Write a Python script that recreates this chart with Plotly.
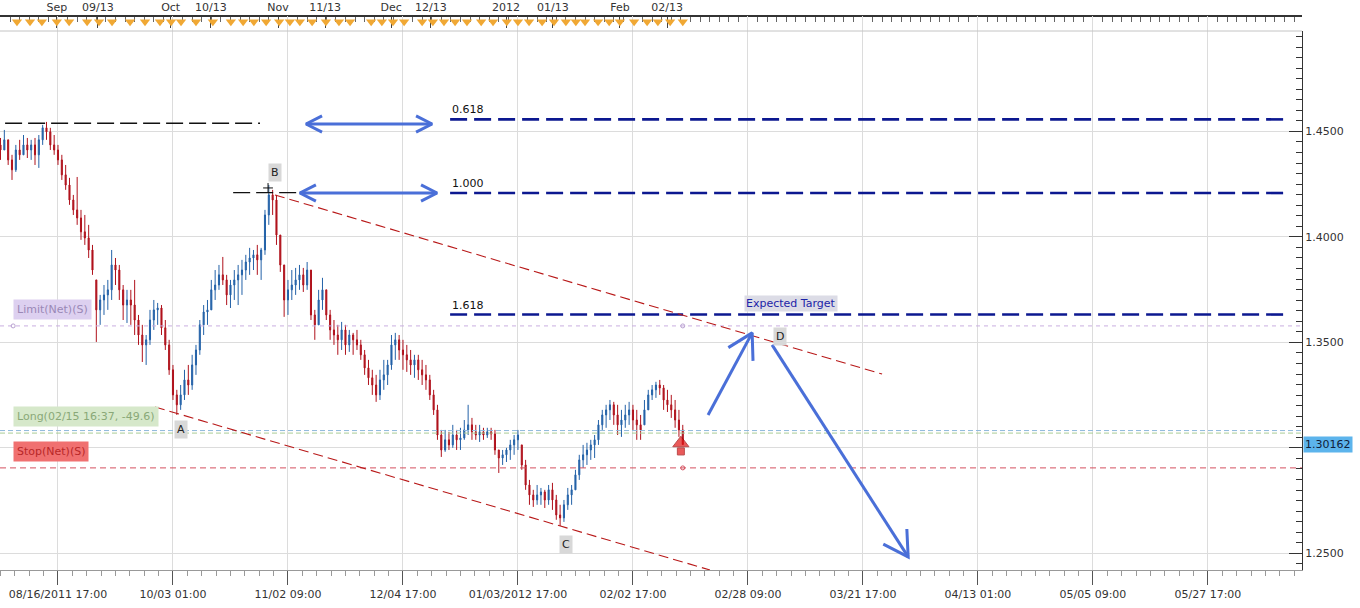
import math
import plotly.graph_objects as go

# ---------------- data ----------------
bar_index = list(range(179))
high = [1.4469, 1.4507, 1.4460, 1.4389, 1.4436, 1.4460, 1.4483, 1.4469, 1.4460, 1.4469,
        1.4483, 1.4531, 1.4545, 1.4517, 1.4483, 1.4436, 1.4389, 1.4341, 1.4280, 1.4199,
        1.4284, 1.4128, 1.4104, 1.4057, 1.3962, 1.3796, 1.3725, 1.3772, 1.3796, 1.3938,
        1.3900, 1.3867, 1.3772, 1.3749, 1.3749, 1.3796, 1.3630, 1.3583, 1.3535, 1.3654,
        1.3701, 1.3687, 1.3677, 1.3606, 1.3512, 1.3393, 1.3275, 1.3298, 1.3370, 1.3393,
        1.3441, 1.3488, 1.3606, 1.3677, 1.3701, 1.3796, 1.3843, 1.3867, 1.3905, 1.3820,
        1.3796, 1.3843, 1.3867, 1.3891, 1.3915, 1.3948, 1.3938, 1.3962, 1.3948, 1.4128,
        1.4246, 1.4223, 1.4199, 1.4009, 1.3867, 1.3796, 1.3843, 1.3853, 1.3867, 1.3853,
        1.3881, 1.3843, 1.3654, 1.3749, 1.3806, 1.3749, 1.3654, 1.3606, 1.3583, 1.3597,
        1.3583, 1.3559, 1.3545, 1.3559, 1.3512, 1.3464, 1.3417, 1.3370, 1.3346, 1.3370,
        1.3417, 1.3417, 1.3535, 1.3545, 1.3535, 1.3512, 1.3488, 1.3464, 1.3441, 1.3441,
        1.3417, 1.3393, 1.3346, 1.3275, 1.3204, 1.3085, 1.3085, 1.3076, 1.3109, 1.3085,
        1.3095, 1.3132, 1.3204, 1.3142, 1.3109, 1.3109, 1.3095, 1.3095, 1.3095, 1.3085,
        1.2990, 1.2990, 1.3000, 1.3038, 1.3061, 1.3085, 1.3014, 1.2943, 1.2848, 1.2801,
        1.2824, 1.2810, 1.2801, 1.2824, 1.2834, 1.2777, 1.2730, 1.2753, 1.2810, 1.2824,
        1.2896, 1.2967, 1.3014, 1.3024, 1.3038, 1.3061, 1.3132, 1.3180, 1.3204, 1.3227,
        1.3218, 1.3204, 1.3180, 1.3204, 1.3218, 1.3204, 1.3180, 1.3156, 1.3227, 1.3275,
        1.3298, 1.3313, 1.3322, 1.3298, 1.3275, 1.3251, 1.3227, 1.3180, 1.3109]
low = [1.4365, 1.4412, 1.4341, 1.4270, 1.4308, 1.4365, 1.4389, 1.4374, 1.4365, 1.4341,
       1.4327, 1.4436, 1.4460, 1.4412, 1.4389, 1.4341, 1.4270, 1.4223, 1.4152, 1.4104,
       1.4057, 1.3986, 1.3962, 1.3900, 1.3820, 1.3502, 1.3583, 1.3630, 1.3654, 1.3701,
       1.3772, 1.3701, 1.3606, 1.3592, 1.3583, 1.3535, 1.3488, 1.3407, 1.3393, 1.3488,
       1.3559, 1.3583, 1.3535, 1.3464, 1.3346, 1.3227, 1.3156, 1.3180, 1.3227, 1.3251,
       1.3275, 1.3346, 1.3441, 1.3535, 1.3583, 1.3654, 1.3701, 1.3749, 1.3772, 1.3677,
       1.3663, 1.3701, 1.3677, 1.3725, 1.3796, 1.3820, 1.3843, 1.3820, 1.3796, 1.3915,
       1.4057, 1.4104, 1.3962, 1.3834, 1.3621, 1.3630, 1.3701, 1.3725, 1.3749, 1.3739,
       1.3749, 1.3606, 1.3512, 1.3583, 1.3654, 1.3606, 1.3512, 1.3488, 1.3441, 1.3464,
       1.3441, 1.3455, 1.3441, 1.3464, 1.3417, 1.3346, 1.3298, 1.3251, 1.3218, 1.3227,
       1.3275, 1.3298, 1.3370, 1.3417, 1.3417, 1.3370, 1.3360, 1.3346, 1.3332, 1.3322,
       1.3298, 1.3275, 1.3227, 1.3156, 1.3038, 1.2957, 1.2981, 1.2990, 1.3000, 1.2990,
       1.2990, 1.3038, 1.3061, 1.3038, 1.3038, 1.3028, 1.3038, 1.3047, 1.3038, 1.2967,
       1.2881, 1.2919, 1.2933, 1.2943, 1.2967, 1.2990, 1.2896, 1.2801, 1.2730, 1.2720,
       1.2730, 1.2730, 1.2715, 1.2730, 1.2706, 1.2659, 1.2630, 1.2649, 1.2706, 1.2730,
       1.2801, 1.2848, 1.2905, 1.2919, 1.2943, 1.2952, 1.3014, 1.3085, 1.3095, 1.3132,
       1.3109, 1.3061, 1.3052, 1.3095, 1.3109, 1.3085, 1.3038, 1.3038, 1.3109, 1.3180,
       1.3227, 1.3237, 1.3251, 1.3180, 1.3170, 1.3142, 1.3095, 1.3052, 1.3014]
close = [1.4412, 1.4460, 1.4365, 1.4318, 1.4412, 1.4389, 1.4436, 1.4412, 1.4436, 1.4389,
         1.4460, 1.4517, 1.4498, 1.4436, 1.4412, 1.4365, 1.4294, 1.4246, 1.4175, 1.4128,
         1.4090, 1.4024, 1.3995, 1.3938, 1.3843, 1.3654, 1.3701, 1.3725, 1.3749, 1.3867,
         1.3843, 1.3749, 1.3677, 1.3701, 1.3677, 1.3606, 1.3535, 1.3488, 1.3512, 1.3606,
         1.3654, 1.3663, 1.3569, 1.3488, 1.3370, 1.3251, 1.3204, 1.3251, 1.3322, 1.3298,
         1.3393, 1.3464, 1.3583, 1.3644, 1.3654, 1.3749, 1.3772, 1.3820, 1.3796, 1.3725,
         1.3772, 1.3796, 1.3820, 1.3843, 1.3881, 1.3900, 1.3915, 1.3891, 1.3938, 1.4104,
         1.4199, 1.4175, 1.4009, 1.3867, 1.3701, 1.3749, 1.3772, 1.3796, 1.3820, 1.3772,
         1.3843, 1.3630, 1.3583, 1.3701, 1.3749, 1.3630, 1.3559, 1.3535, 1.3512, 1.3559,
         1.3488, 1.3535, 1.3512, 1.3488, 1.3441, 1.3379, 1.3332, 1.3298, 1.3251, 1.3322,
         1.3346, 1.3393, 1.3488, 1.3512, 1.3464, 1.3441, 1.3417, 1.3393, 1.3417, 1.3370,
         1.3346, 1.3322, 1.3251, 1.3180, 1.3061, 1.2990, 1.3038, 1.3014, 1.3061, 1.3038,
         1.3047, 1.3085, 1.3109, 1.3076, 1.3061, 1.3076, 1.3061, 1.3076, 1.3066, 1.2990,
         1.2952, 1.2967, 1.2990, 1.3014, 1.3038, 1.3061, 1.2919, 1.2824, 1.2777, 1.2753,
         1.2777, 1.2791, 1.2753, 1.2801, 1.2753, 1.2682, 1.2668, 1.2730, 1.2777, 1.2801,
         1.2872, 1.2943, 1.2967, 1.2990, 1.3014, 1.3038, 1.3109, 1.3156, 1.3180, 1.3204,
         1.3156, 1.3109, 1.3132, 1.3156, 1.3180, 1.3132, 1.3109, 1.3085, 1.3180, 1.3251,
         1.3275, 1.3298, 1.3284, 1.3227, 1.3204, 1.3180, 1.3132, 1.3085, 1.3016]
first_open = 1.4436

# bottom time axis
bottom_tick_bars = [15, 45, 75, 105, 135, 165, 195, 225, 255, 285, 315]
bottom_tick_labels = ["08/16/2011 17:00", "10/03 01:00", "11/02 09:00", "12/04 17:00",
                      "01/03/2012 17:00", "02/02 17:00", "02/28 09:00", "03/21 17:00",
                      "04/13 01:00", "05/05 09:00", "05/27 17:00"]
# top calendar axis
top_tick_bars = [14.7, 25.4, 44.4, 54.9, 72.4, 84.7, 101.9, 112.3, 131.9, 144.1, 161.6, 173.9]
top_tick_labels = ["Sep", "09/13", "Oct", "10/13", "Nov", "11/13", "Dec", "12/13",
                   "2012", "01/13", "Feb", "02/13"]
# event markers in the top strip
event_bars = [4.3, 7.7, 10.8, 14.7, 17.9, 22.6, 25.7, 29.1, 33.8, 37.7, 41.6, 44.5, 47.1,
              51.0, 55.4, 60.1, 63.3, 66.1, 69.3, 72.7, 75.5, 78.1, 81.3, 84.9, 88.3, 91.2,
              96.7, 99.5, 102.4, 105.3, 110.0, 112.8, 115.7, 118.6, 121.7, 125.4, 128.5,
              132.1, 135.0, 137.9, 141.3, 144.4, 147.5, 150.1, 152.5, 155.9, 158.8, 161.6,
              165.3, 168.7, 171.5, 174.7, 178.0]

# price axis
price_ticks = [1.25, 1.30, 1.35, 1.40, 1.45]
price_tick_labels = ["1.2500", "", "1.3500", "1.4000", "1.4500"]
current_price = 1.30162

# Fibonacci levels
fib_labels = ["0.618", "1.000", "1.618"]
fib_prices = [1.4557, 1.4208, 1.3632]
fib_start_bar, fib_end_bar = 117.3, 335.1

# order lines
limit_price = 1.3578
ask_price = 1.3082
long_price = 1.3070
stop_price = 1.2905

# drawings (bar index, price)
swing_high_level = [(1.2, 1.4539), (67.7, 1.4539)]
b_level = [(60.7, 1.4210), (101.6, 1.4210)]
upper_channel = [(71.6, 1.4199), (230.0, 1.3350)]
lower_channel = [(40.3, 1.3194), (185.1, 1.2421)]
double_arrows = [((79.7, 1.4535), (112.6, 1.4535)), ((78.1, 1.4208), (113.9, 1.4208))]
single_arrows = [((184.6, 1.3156), (196.1, 1.3545)), ((201.3, 1.3488), (236.8, 1.2483))]
point_labels = [("A", 47.1, 1.3085), ("B", 71.6, 1.4303), ("C", 147.5, 1.2540), ("D", 203.4, 1.3530)]
target_label = ("Expected Target", 206.2, 1.3682)

# ---------------- layout constants ----------------
XR = [-0.13, 339.55]
YR = [1.2421, 1.4976]
PLOT_W, PLOT_H = 1302, 554
MAIN_H = 539
MAIN_TOP = MAIN_H / PLOT_H
SX = PLOT_W / (XR[1] - XR[0])
SY = MAIN_H / (YR[1] - YR[0])

BLUE_BAR = "#2462a8"
RED_BAR = "#b0121c"
ARROW = "#4a6fd8"
NAVY = "#0c1890"
FONT = "DejaVu Sans, Verdana, sans-serif"

opens = []
prev = first_open
for h, l, c in zip(high, low, close):
    opens.append(min(max(prev, l), h))
    prev = c


def head(tip, tail, length, ang):
    dx = (tail[0] - tip[0]) * SX
    dy = (tail[1] - tip[1]) * SY
    n = math.hypot(dx, dy)
    ux, uy = dx / n, dy / n
    xs, ys = [], []
    for a in (ang, -ang):
        rx = ux * math.cos(a) - uy * math.sin(a)
        ry = ux * math.sin(a) + uy * math.cos(a)
        xs.append(tip[0] + rx * length / SX)
        ys.append(tip[1] + ry * length / SY)
    return [xs[0], tip[0], xs[1]], [ys[0], tip[1], ys[1]]


fig = go.Figure()


def hline(price, color, dash, width=1):
    fig.add_trace(go.Scatter(x=XR, y=[price, price], mode="lines",
                             line=dict(color=color, dash=dash, width=width),
                             hoverinfo="skip"))


# order lines
hline(limit_price, "#c9aee0", "4px,4px")
hline(ask_price, "#8fb8dc", "5px,3px")
hline(long_price, "#a9cc94", "5px,3px")
hline(stop_price, "#d4505e", "6px,4px")
fig.add_trace(go.Scatter(x=[3.3, 178, 178], y=[limit_price, limit_price, stop_price], mode="markers",
                         marker=dict(symbol="circle-open", size=4, color=["#b8a0d0", "#b8a0d0", "#d4505e"]),
                         hoverinfo="skip"))

# fib lines
for p in fib_prices:
    fig.add_trace(go.Scatter(x=[fib_start_bar, fib_end_bar], y=[p, p], mode="lines",
                             line=dict(color=NAVY, dash="17px,7px", width=2.6), hoverinfo="skip"))

# black dashed levels
for seg in (swing_high_level, b_level):
    fig.add_trace(go.Scatter(x=[s[0] for s in seg], y=[s[1] for s in seg], mode="lines",
                             line=dict(color="#111111", dash="17px,6px", width=1.4), hoverinfo="skip"))

# channel lines
for seg in (upper_channel, lower_channel):
    fig.add_trace(go.Scatter(x=[s[0] for s in seg], y=[s[1] for s in seg], mode="lines",
                             line=dict(color="#b81818", dash="10px,5px", width=1.1), hoverinfo="skip"))

# candles
fig.add_trace(go.Candlestick(
    x=bar_index, open=opens, high=high, low=low, close=close,
    increasing=dict(line=dict(color=BLUE_BAR, width=1), fillcolor=BLUE_BAR),
    decreasing=dict(line=dict(color=RED_BAR, width=1), fillcolor=RED_BAR),
    whiskerwidth=0, hoverinfo="skip"))

# arrows
ax, ay = [], []
for a, b in double_arrows:
    ax += [a[0], b[0], None]
    ay += [a[1], b[1], None]
    for tip, tail in ((a, b), (b, a)):
        hx, hy = head(tip, tail, 18, math.radians(27))
        ax += hx + [None]
        ay += hy + [None]
for a, b in single_arrows:
    ax += [a[0], b[0], None]
    ay += [a[1], b[1], None]
    hx, hy = head(b, a, 28, math.radians(30))
    ax += hx + [None]
    ay += hy + [None]
fig.add_trace(go.Scatter(x=ax, y=ay, mode="lines", line=dict(color=ARROW, width=3),
                         hoverinfo="skip", connectgaps=False))

# markers: cross at B, red arrow icon (head + shaft)
fig.add_trace(go.Scatter(x=[69.8], y=[1.4232], mode="markers",
                         marker=dict(symbol="cross-thin", size=7, line=dict(color="#111", width=1)),
                         hoverinfo="skip"))
fig.add_trace(go.Scatter(x=[177.5, 177.5], y=[1.2983, 1.3022], mode="markers",
                         marker=dict(symbol=["square", "triangle-up"], size=[7, 14], color="#e01414",
                                     line=dict(color="#a00000", width=1)), hoverinfo="skip"))

# top strip event triangles
fig.add_trace(go.Scatter(x=event_bars, y=[0.62] * len(event_bars), yaxis="y2", mode="markers",
                         marker=dict(symbol="triangle-down", size=9, color="#f0a834"),
                         hoverinfo="skip"))
# dummy for top axis
fig.add_trace(go.Scatter(x=[XR[0]], y=[None], xaxis="x2", mode="markers", hoverinfo="skip"))

ann = []
for t, p in zip(fib_labels, fib_prices):
    ann.append(dict(x=fib_start_bar, y=p, text=t, showarrow=False, xanchor="left", yanchor="bottom",
                    yshift=1, font=dict(size=11, color="#111")))
for t, x, y in point_labels:
    ann.append(dict(x=x, y=y, text=t, showarrow=False, bgcolor="#d8d8d8", borderpad=2,
                    font=dict(size=11, color="#222")))
ann.append(dict(x=target_label[1], y=target_label[2], text=target_label[0], showarrow=False,
                bgcolor="#dcdce6", borderpad=1, font=dict(size=11, color="#1c24a8")))
ann.append(dict(x=3.3, y=1.3658, text="Limit(Net)(S)", showarrow=False, xanchor="left",
                bgcolor="#ddd0f0", borderpad=3, font=dict(size=11, color="#9a88b6")))
ann.append(dict(x=3.3, y=1.3147, text="Long(02/15 16:37, -49.6)", showarrow=False, xanchor="left",
                bgcolor="#d6e8ca", borderpad=3, font=dict(size=11, color="#8aa878")))
ann.append(dict(x=3.3, y=1.2985, text="Stop(Net)(S)", showarrow=False, xanchor="left",
                bgcolor="#f07070", borderpad=3, font=dict(size=11, color="#b82828")))
ann.append(dict(x=1, xref="paper", y=current_price, yref="y", text=f"{current_price:.5f}",
                showarrow=False, xanchor="left", xshift=1, bgcolor="#5cb4ec", borderpad=1,
                font=dict(size=11, color="#10203a")))

fig.update_layout(
    width=1360, height=608,
    margin=dict(l=0, r=58, t=16, b=38, autoexpand=False),
    paper_bgcolor="white", plot_bgcolor="white", showlegend=False,
    font=dict(family=FONT, size=11, color="#333"),
    boxgap=0.6,
    annotations=ann,
    xaxis=dict(domain=[0, 1], range=XR, anchor="y", tickmode="array",
               tickvals=bottom_tick_bars, ticktext=bottom_tick_labels,
               ticks="outside", ticklen=14, tickcolor="#555", tickfont=dict(size=11, color="#333"),
               showgrid=True, gridcolor="#dcdcdc", showline=True, linecolor="#999",
               zeroline=False, rangeslider=dict(visible=False), automargin=False,
               minor=dict(tickmode="linear", tick0=15, dtick=3.75, ticklen=5,
                          ticks="outside", tickcolor="#999", showgrid=False)),
    xaxis2=dict(overlaying="x", side="top", anchor="free", position=1, range=XR,
                tickmode="array", tickvals=top_tick_bars, ticktext=top_tick_labels,
                ticks="inside", ticklen=11, tickcolor="#444", showgrid=False, automargin=False,
                showline=True, linecolor="#333", linewidth=1.5, zeroline=False,
                tickfont=dict(size=11, color="#333"),
                minor=dict(tickmode="linear", tick0=0, dtick=2.5, ticklen=5,
                           ticks="inside", tickcolor="#666", showgrid=False)),
    yaxis=dict(domain=[0, MAIN_TOP], range=YR, side="right", anchor="x", automargin=False,
               tickmode="array", tickvals=price_ticks, ticktext=price_tick_labels,
               ticks="inside", ticklen=13, tickcolor="#333", showline=True, linecolor="#333",
               showgrid=True, gridcolor="#dcdcdc", zeroline=False,
               tickfont=dict(size=11, color="#333"),
               minor=dict(tickmode="linear", tick0=1.25, dtick=0.005, ticklen=6,
                          ticks="inside", tickcolor="#333", showgrid=False)),
    yaxis2=dict(domain=[MAIN_TOP, 1], range=[0, 1], anchor="x", visible=False),
    shapes=[dict(type="line", xref="paper", yref="paper", x0=0, x1=1, y0=MAIN_TOP, y1=MAIN_TOP,
                 line=dict(color="#c4c4c4", width=1))],
)

fig.write_html("out.html", config={"displayModeBar": False},
               post_script="document.body.style.margin='0';document.body.style.overflow='hidden';")
